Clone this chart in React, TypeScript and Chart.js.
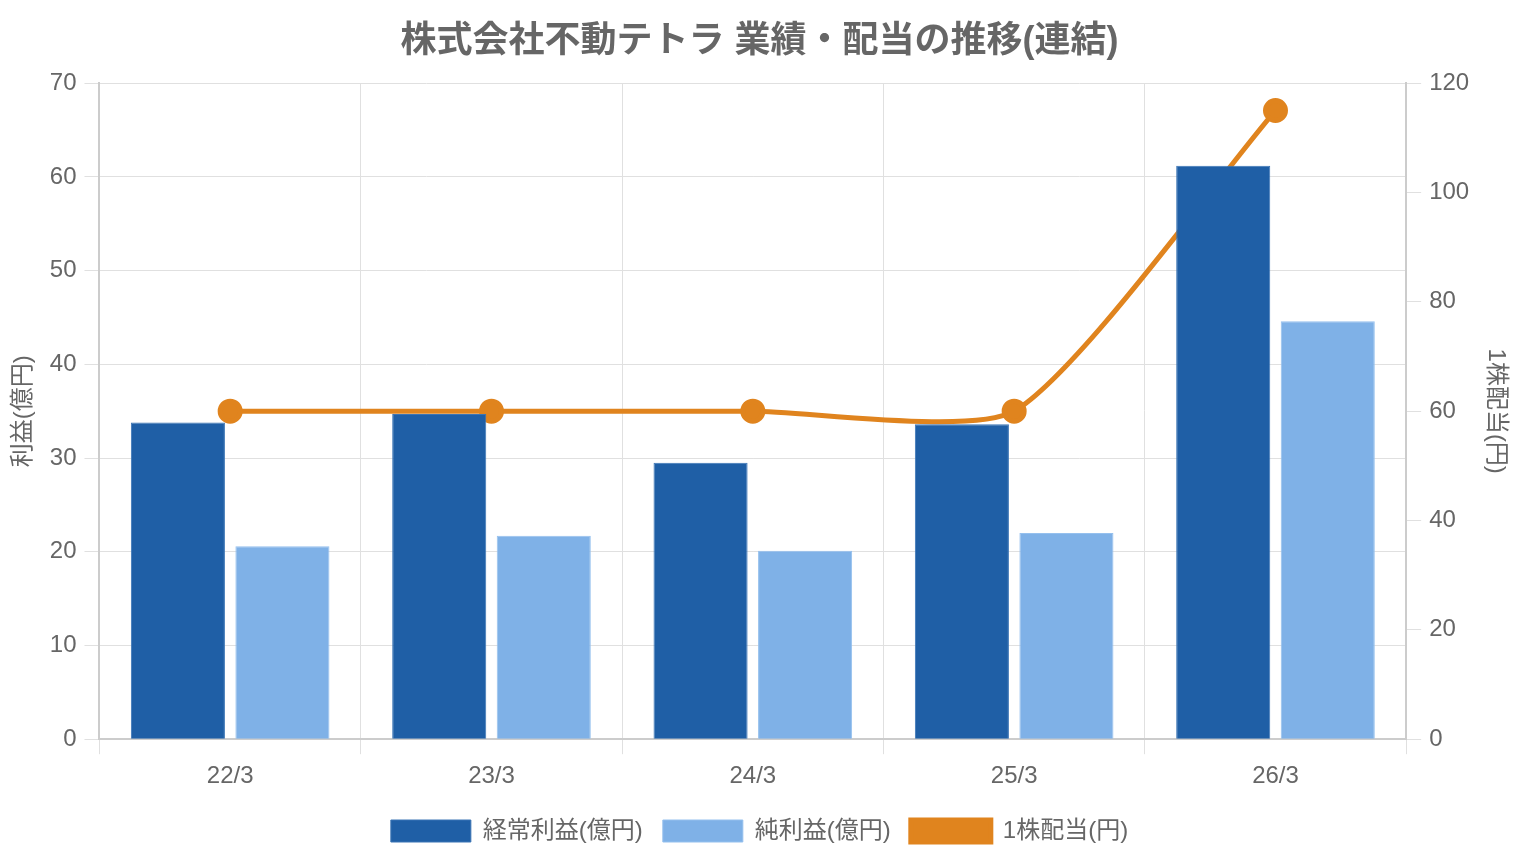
import React, { useEffect, useRef } from "react";
import Chart, { ChartConfiguration } from "chart.js/auto";

const periods = ["22/3", "23/3", "24/3", "25/3", "26/3"];
const ordinaryProfit = [33.8, 34.7, 29.5, 33.6, 61.2];
const netProfit = [20.6, 21.7, 20.1, 22.0, 44.6];
const dividend = [60, 60, 60, 60, 115];

const FONT = "'Liberation Sans', 'Noto Sans CJK JP', sans-serif";
const TEXT = "#666666";

const App: React.FC = () => {
  const chartRef = useRef<HTMLCanvasElement | null>(null);

  useEffect(() => {
    if (!chartRef.current) return;
    const ctx = chartRef.current.getContext("2d");
    if (!ctx) return;

    const config: ChartConfiguration = {
      type: "bar",
      data: {
        labels: periods,
        datasets: [
          {
            type: "bar",
            label: "経常利益(億円)",
            data: ordinaryProfit,
            backgroundColor: "#1f5fa6",
            borderColor: "#3a74b5",
            borderWidth: 1,
            yAxisID: "y",
            order: 1,
          },
          {
            type: "bar",
            label: "純利益(億円)",
            data: netProfit,
            backgroundColor: "#7fb1e7",
            borderColor: "#95c0ee",
            borderWidth: 1,
            yAxisID: "y",
            order: 1,
          },
          {
            type: "line",
            label: "1株配当(円)",
            data: dividend,
            backgroundColor: "#e0841e",
            borderColor: "#e0841e",
            borderWidth: 5,
            pointRadius: 10,
            pointHoverRadius: 10,
            tension: 0.2,
            yAxisID: "y1",
            order: 2,
          },
        ],
      },
      options: {
        responsive: true,
        maintainAspectRatio: false,
        animation: false,
        layout: { padding: { left: 5, right: 6, top: 8, bottom: 7 } },
        plugins: {
          title: {
            display: true,
            text: "株式会社不動テトラ 業績・配当の推移(連結)",
            color: TEXT,
            font: { family: FONT, size: 36, weight: "bold" },
            padding: { top: 12, bottom: 20 },
          },
          legend: {
            position: "bottom",
            labels: {
              color: TEXT,
              font: { family: FONT, size: 24 },
              boxWidth: 80,
              boxHeight: 22,
              padding: 20,
            },
          },
          tooltip: { enabled: false },
        },
        scales: {
          x: {
            ticks: { color: TEXT, font: { family: FONT, size: 24 }, padding: 8 },
            grid: { color: "#e0e0e0", tickLength: 15 },
            border: { color: "#cccccc", width: 2 },
          },
          y: {
            position: "left",
            min: 0,
            max: 70,
            ticks: { stepSize: 10, color: TEXT, font: { family: FONT, size: 24 }, padding: 8 },
            grid: { color: "#e0e0e0", tickLength: 15 },
            border: { color: "#cccccc", width: 2 },
            title: {
              display: true,
              text: "利益(億円)",
              color: TEXT,
              font: { family: FONT, size: 24 },
            },
          },
          y1: {
            position: "right",
            min: 0,
            max: 120,
            ticks: { stepSize: 20, color: TEXT, font: { family: FONT, size: 24 }, padding: 8 },
            grid: { drawOnChartArea: false, color: "#e0e0e0", tickLength: 15 },
            border: { color: "#cccccc", width: 2 },
            title: {
              display: true,
              text: "1株配当(円)",
              color: TEXT,
              font: { family: FONT, size: 24 },
            },
          },
        },
      },
    };

    const chartInstance = new Chart(ctx, config);
    return () => {
      chartInstance.destroy();
    };
  }, []);

  return (
    <div style={{ position: "absolute", left: 0, top: 0, width: 1520, height: 860, background: "#ffffff" }}>
      <canvas ref={chartRef} />
    </div>
  );
};

export default App;
